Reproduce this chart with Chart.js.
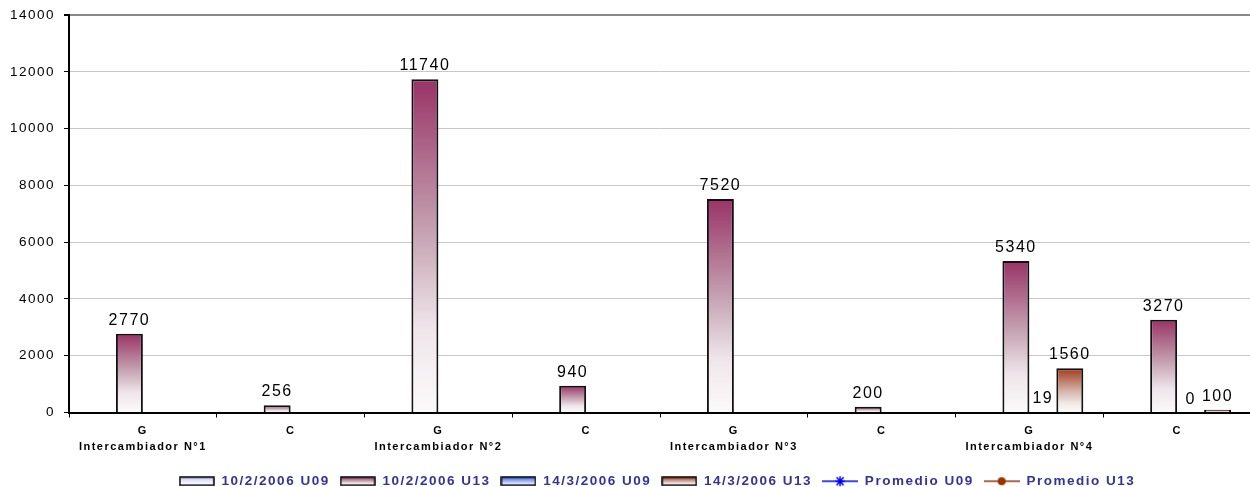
<!DOCTYPE html>
<html>
<head>
<meta charset="utf-8">
<script src="https://cdn.jsdelivr.net/npm/chart.js@4.4.0/dist/chart.umd.min.js"></script>
<style>
html, body { margin: 0; padding: 0; background: #fff; }
#wrap { width: 1250px; height: 487px; }
</style>
</head>
<body>
<div id="wrap"><canvas id="chart"></canvas></div>
<script>
// ---- data ----
const categories = [
    ['G', 'Intercambiador N°1'], 'C',
    ['G', 'Intercambiador N°2'], 'C',
    ['G', 'Intercambiador N°3'], 'C',
    ['G', 'Intercambiador N°4'], 'C'
];
const febU09 = [null, null, null, null, null, null, null, null];
const febU13 = [2770, 256, 11740, 940, 7520, 200, 5340, 3270];
const marU09 = [null, null, null, null, null, null, 19, 0];
const marU13 = [null, null, null, null, null, null, 1560, 100];
const promU09 = [null, null, null, null, null, null, null, null];
const promU13 = [null, null, null, null, null, null, null, null];
const yTicks = [0, 2000, 4000, 6000, 8000, 10000, 12000, 14000];

const FONT = '"Liberation Sans", Arial, sans-serif';
const SPACING = '1.5px';
const PLOT_RIGHT = 1251;

// gradient colour stops, top of bar first
const blueLight = [[0, '#c8c8ff'], [0.6, '#eeeeff'], [1, '#ffffff']];
const maroon = [[0, '#993366'], [0.45, '#c4a0b0'], [0.75, '#efe6ea'], [1, '#fbfafb']];
const blue = [[0, '#3366ff'], [0.5, '#a8b8f0'], [1, '#fbfbff']];
const brown = [[0, '#a3381a'], [0.5, '#d2b0a6'], [0.8, '#f2eae8'], [1, '#fcfbfb']];

// vertical gradient from the bar's top down to the zero line
function barFill(stops) {
    return function (c) {
        const chart = c.chart;
        if (c.type !== 'data' || !c.parsed || !chart.scales.y) return stops[0][1];
        const ys = chart.scales.y;
        const y0 = ys.getPixelForValue(c.parsed.y);
        const y1 = ys.getPixelForValue(0);
        if (!isFinite(y0) || y1 - y0 < 1) return '#ffffff';
        const g = chart.ctx.createLinearGradient(0, y0, 0, y1);
        stops.forEach(function (s) { g.addColorStop(s[0], s[1]); });
        return g;
    };
}

// small pictures used as legend symbols
function legendBox(stops) {
    const cv = document.createElement('canvas');
    cv.width = 36; cv.height = 10;
    const x = cv.getContext('2d');
    const g = x.createLinearGradient(0, 1, 0, 9);
    stops.forEach(function (s) { g.addColorStop(s[0], s[1]); });
    x.fillStyle = g;
    x.fillRect(1, 1, 34, 8);
    x.strokeStyle = '#000';
    x.lineWidth = 1.5;
    x.strokeRect(1, 1, 34, 8);
    return cv;
}
function legendLine(color, marker) {
    const cv = document.createElement('canvas');
    cv.width = 36; cv.height = 12;
    const x = cv.getContext('2d');
    x.strokeStyle = color;
    x.fillStyle = color;
    x.lineWidth = 1.5;
    x.beginPath(); x.moveTo(0, 6); x.lineTo(36, 6); x.stroke();
    if (marker === 'star') {
        x.beginPath();
        x.moveTo(13, 6); x.lineTo(23, 6);
        x.moveTo(14.5, 2); x.lineTo(21.5, 10);
        x.moveTo(21.5, 2); x.lineTo(14.5, 10);
        x.moveTo(18, 1); x.lineTo(18, 11);
        x.stroke();
    } else {
        x.beginPath(); x.arc(18, 6, 4, 0, Math.PI * 2); x.fill();
    }
    return cv;
}

const symbols = [
    legendBox(blueLight),
    legendBox(maroon),
    legendBox(blue),
    legendBox(brown),
    legendLine('#0000ff', 'star'),
    legendLine('#993300', 'dot')
];

// letter spacing on all canvas text
const spacing = {
    id: 'spacing',
    beforeUpdate(chart) { chart.ctx.letterSpacing = SPACING; },
    beforeDraw(chart) { chart.ctx.letterSpacing = SPACING; }
};

// let the plot run to the right edge of the picture
const stretchRight = {
    id: 'stretchRight',
    afterLayout(chart) {
        const xs = chart.scales.x;
        xs.right = PLOT_RIGHT;
        xs.width = xs.right - xs.left;
        xs.configure();
        chart.chartArea.right = PLOT_RIGHT;
        chart.chartArea.width = PLOT_RIGHT - chart.chartArea.left;
    }
};

// numbers above the bars
const valueLabels = {
    id: 'valueLabels',
    afterDatasetsDraw(chart) {
        const ctx = chart.ctx;
        ctx.save();
        ctx.letterSpacing = SPACING;
        ctx.font = '16px ' + FONT;
        ctx.fillStyle = '#000';
        ctx.textAlign = 'center';
        ctx.textBaseline = 'alphabetic';
        chart.data.datasets.forEach(function (ds, i) {
            if (ds.type === 'line') return;
            chart.getDatasetMeta(i).data.forEach(function (bar, j) {
                const v = ds.data[j];
                if (v == null) return;
                ctx.fillText(String(v), bar.x, bar.y - 9);
            });
        });
        ctx.restore();
    }
};

const ctx = document.getElementById('chart').getContext('2d');
new Chart(ctx, {
    data: {
        labels: categories,
        datasets: [
            { type: 'bar', label: '10/2/2006 U09', data: febU09, backgroundColor: barFill(blueLight), borderColor: '#111', borderWidth: 2 },
            { type: 'bar', label: '10/2/2006 U13', data: febU13, backgroundColor: barFill(maroon), borderColor: '#111', borderWidth: 2 },
            { type: 'bar', label: '14/3/2006 U09', data: marU09, backgroundColor: barFill(blue), borderColor: '#111', borderWidth: 2 },
            { type: 'bar', label: '14/3/2006 U13', data: marU13, backgroundColor: barFill(brown), borderColor: '#111', borderWidth: 2 },
            { type: 'line', label: 'Promedio U09', data: promU09, borderColor: '#0000ff', backgroundColor: '#0000ff', pointStyle: 'star' },
            { type: 'line', label: 'Promedio U13', data: promU13, borderColor: '#993300', backgroundColor: '#993300', pointStyle: 'circle' }
        ]
    },
    options: {
        responsive: true,
        maintainAspectRatio: false,
        animation: false,
        layout: { padding: { top: 15, right: 0, bottom: -11, left: 0 } },
        datasets: {
            bar: { categoryPercentage: 0.73, barPercentage: 1.0 }
        },
        plugins: {
            tooltip: { enabled: false },
            legend: {
                position: 'bottom',
                fullSize: false,
                labels: {
                    usePointStyle: true,
                    pointStyleWidth: 36,
                    boxHeight: 12,
                    padding: 10,
                    color: '#333399',
                    font: { family: FONT, size: 13.5, weight: 'bold' },
                    generateLabels: function (chart) {
                        return chart.data.datasets.map(function (ds, i) {
                            return {
                                text: ds.label,
                                pointStyle: symbols[i],
                                fontColor: '#333399',
                                datasetIndex: i,
                                lineWidth: 0
                            };
                        });
                    }
                }
            }
        },
        scales: {
            x: {
                afterFit: function (s) { s.height = 52; },
                grid: { display: true, offset: true, drawOnChartArea: false, tickLength: 5, tickColor: '#000' },
                border: { color: '#000', width: 2 },
                ticks: {
                    color: '#000',
                    padding: 6,
                    maxRotation: 0,
                    autoSkip: false,
                    font: { family: FONT, size: 11, weight: 'bold', lineHeight: 1.4 }
                }
            },
            y: {
                min: 0,
                max: 14000,
                afterFit: function (s) { s.width = 69; s.paddingTop = 0; s.paddingBottom = 0; },
                afterBuildTicks: function (s) { s.ticks = yTicks.map(function (v) { return { value: v }; }); },
                grid: {
                    color: function (c) { return c.tick && c.tick.value === 14000 ? '#888888' : '#c8c8c8'; },
                    lineWidth: function (c) { return c.tick && c.tick.value === 14000 ? 2 : 1; },
                    tickLength: 5,
                    tickColor: '#000'
                },
                border: { color: '#000', width: 2 },
                ticks: {
                    color: '#000',
                    padding: 9,
                    font: { family: FONT, size: 13.5 },
                    callback: function (v) { return String(v); }
                }
            }
        }
    },
    plugins: [spacing, stretchRight, valueLabels]
});
</script>
</body>
</html>
